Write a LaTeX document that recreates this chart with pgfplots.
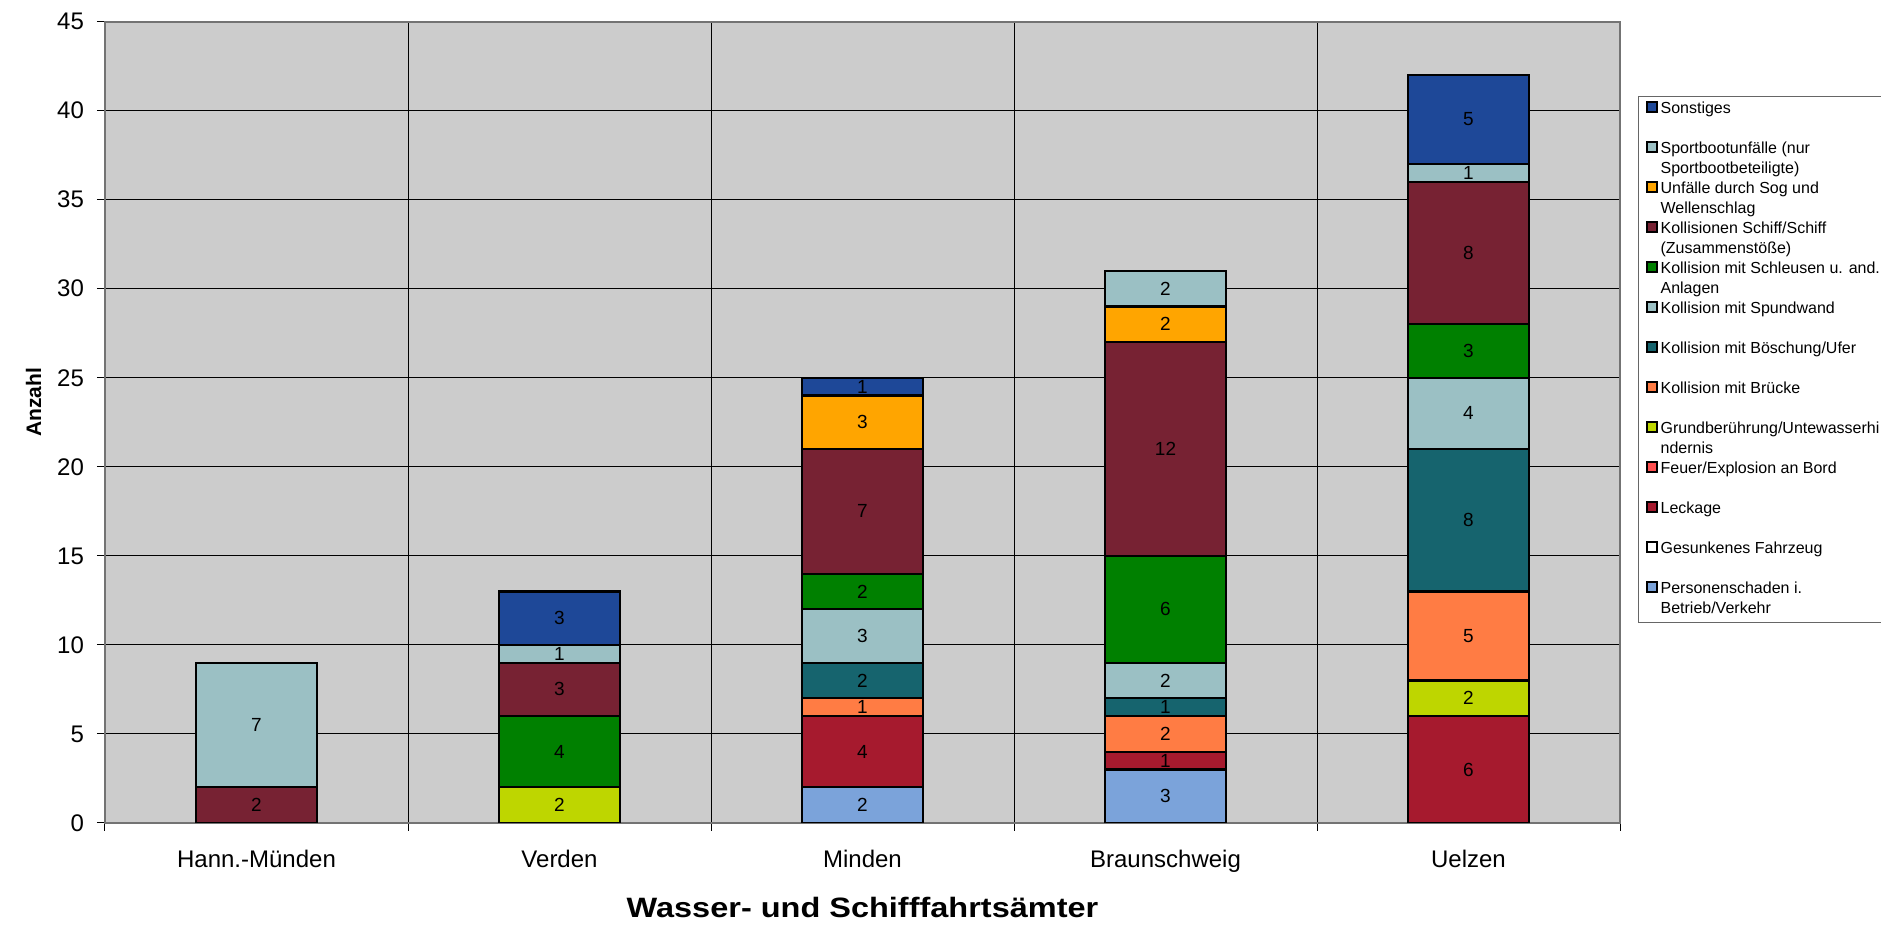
\documentclass[border=0pt]{standalone}
\usepackage{pgfplots}
\pgfplotsset{compat=1.18}
\usepackage{fontspec}
\setmainfont{Liberation Sans}
\definecolor{cSonst}{RGB}{30,72,152}
\definecolor{cSport}{RGB}{155,192,196}
\definecolor{cSog}{RGB}{255,165,0}
\definecolor{cSchiff}{RGB}{119,34,51}
\definecolor{cSchleus}{RGB}{0,128,0}
\definecolor{cSpund}{RGB}{155,192,196}
\definecolor{cBosch}{RGB}{22,100,110}
\definecolor{cBruecke}{RGB}{255,124,68}
\definecolor{cGrund}{RGB}{190,214,0}
\definecolor{cFeuer}{RGB}{255,80,80}
\definecolor{cLeck}{RGB}{166,26,46}
\definecolor{cPers}{RGB}{123,163,218}
\definecolor{cBg}{RGB}{204,204,204}
\pgfplotsset{sq/.style={legend image code/.code={\draw[##1,line width=1pt,draw=black] (0.5pt,1pt) rectangle (5.5pt,6pt);}}}
\newcommand{\lgE}[2]{\parbox[t]{112pt}{\strut #1\\\strut #2}}
\begin{document}
\begin{tikzpicture}
\begin{axis}[name=main,
  scale only axis, width=757.5pt, height=400.7pt,
  xmin=-0.5, xmax=4.5, ymin=0, ymax=45,
  ybar stacked, bar width=60.6pt,
  axis background/.style={fill=cBg},
  axis line style={draw=black!55, line width=1pt},
  xtick={-0.5,0.5,...,4.5}, xticklabels={},
  extra x ticks={0,1,2,3,4},
  extra x tick labels={Hann.-Münden,Verden,Minden,Braunschweig,Uelzen},
  extra x tick style={grid=none, major tick length=0pt, tick style={draw=none}},
  ytick={0,5,...,45},
  xtick pos=bottom, ytick pos=left,
  xmajorgrids, ymajorgrids,
  grid style={black, line width=0.5pt},
  tick align=outside, major tick length=4pt,
  tick style={black, line width=0.5pt},
  /pgf/number format/assume math mode=true,
  tick label style={font=\fontsize{12}{14}\selectfont},
  xticklabel style={anchor=base, yshift=-22.5pt},
  yticklabel style={xshift=-3pt},
  every axis x label/.style={at={(axis description cs:0.5,-0.106)}, anchor=center, xscale=1.16, font=\bfseries\fontsize{14}{17}\selectfont},
  every axis y label/.style={at={(axis description cs:-0.0471,0.525)}, rotate=90, anchor=center, font=\bfseries\fontsize{10.5}{12}\selectfont},
  xlabel={Wasser- und Schifffahrtsämter},
  ylabel={Anzahl},
  every axis plot/.append style={draw=black, line width=1.1pt},
  every axis plot post/.append style={sq},
  reverse legend,
  legend cell align=left,
  legend style={at={(1,1)}, anchor=north west, xshift=9pt, yshift=-37.2pt,
    font=\fontsize{8}{10}\selectfont, draw=black!60, line width=0.6pt,
    inner xsep=3.5pt, inner ysep=1.5pt, column sep=1.5pt, row sep=0pt,
    nodes={inner sep=0pt, text depth=}, cells={anchor=base west}},
]
\addplot[fill=cPers, sq] coordinates {(0,0) (1,0) (2,2) (3,3) (4,0)};
\addlegendentry{\lgE{Personenschaden i.}{Betrieb/Verkehr}}
\addlegendimage{fill=white, draw=black, sq}
\addlegendentry{\lgE{Gesunkenes Fahrzeug}{}}
\addplot[fill=cLeck, sq] coordinates {(0,0) (1,0) (2,4) (3,1) (4,6)};
\addlegendentry{\lgE{Leckage}{}}
\addlegendimage{fill=cFeuer, draw=black, sq}
\addlegendentry{\lgE{Feuer/Explosion an Bord}{}}
\addplot[fill=cGrund, sq] coordinates {(0,0) (1,2) (2,0) (3,0) (4,2)};
\addlegendentry{\lgE{Grundberührung/Untewasserhi}{ndernis}}
\addplot[fill=cBruecke, sq] coordinates {(0,0) (1,0) (2,1) (3,2) (4,5)};
\addlegendentry{\lgE{Kollision mit Brücke}{}}
\addplot[fill=cBosch, sq] coordinates {(0,0) (1,0) (2,2) (3,1) (4,8)};
\addlegendentry{\lgE{Kollision mit Böschung/Ufer}{}}
\addplot[fill=cSpund, sq] coordinates {(0,0) (1,0) (2,3) (3,2) (4,4)};
\addlegendentry{\lgE{Kollision mit Spundwand}{}}
\addplot[fill=cSchleus, sq] coordinates {(0,0) (1,4) (2,2) (3,6) (4,3)};
\addlegendentry{\lgE{Kollision mit Schleusen u. and.}{Anlagen}}
\addplot[fill=cSchiff, sq] coordinates {(0,2) (1,3) (2,7) (3,12) (4,8)};
\addlegendentry{\lgE{Kollisionen Schiff/Schiff}{(Zusammenstöße)}}
\addplot[fill=cSog, sq] coordinates {(0,0) (1,0) (2,3) (3,2) (4,0)};
\addlegendentry{\lgE{Unfälle durch Sog und}{Wellenschlag}}
\addplot[fill=cSport, sq] coordinates {(0,7) (1,1) (2,0) (3,2) (4,1)};
\addlegendentry{\lgE{Sportbootunfälle (nur}{Sportbootbeteiligte)}}
\addplot[fill=cSonst, sq] coordinates {(0,0) (1,3) (2,1) (3,0) (4,5)};
\addlegendentry{\lgE{Sonstiges}{}}
\end{axis}
\begin{axis}[scale only axis, width=757.5pt, height=400.7pt,
  xmin=-0.5, xmax=4.5, ymin=0, ymax=45, hide axis, clip=false]
\addplot[only marks, mark=*, mark size=0pt, mark options={draw=none, fill=none},
  nodes near coords, point meta=explicit symbolic,
  every node near coord/.append style={anchor=center, inner sep=0pt, text=black, font=\fontsize{9.5}{11}\selectfont}]
  table[meta=l] {
x y l
0 1 2
0 5.5 7
1 1 2
1 4 4
1 7.5 3
1 9.5 1
1 11.5 3
2 1 2
2 4 4
2 6.5 1
2 8 2
2 10.5 3
2 13 2
2 17.5 7
2 22.5 3
2 24.5 1
3 1.5 3
3 3.5 1
3 5 2
3 6.5 1
3 8 2
3 12 6
3 21 12
3 28 2
3 30 2
4 3 6
4 7 2
4 10.5 5
4 17 8
4 23 4
4 26.5 3
4 32 8
4 36.5 1
4 39.5 5
};
\end{axis}
\pgfresetboundingbox
\path[use as bounding box] ([xshift=-52.5pt,yshift=-51.5pt]main.south west) rectangle ++(940.5pt,463pt);
\end{tikzpicture}
\end{document}
